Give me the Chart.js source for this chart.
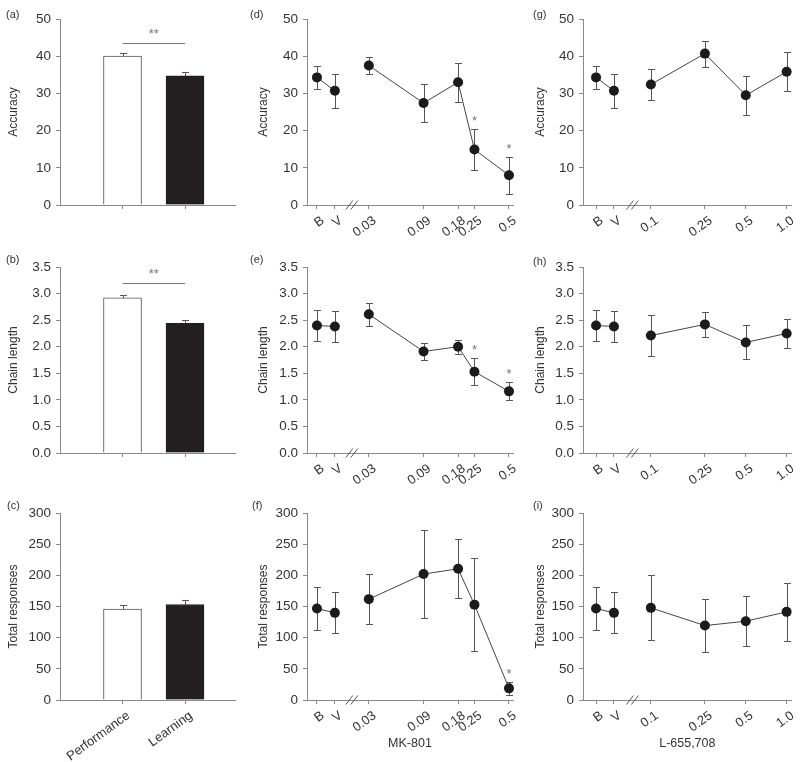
<!DOCTYPE html>
<html>
<head>
<meta charset="utf-8">
<script src="https://cdn.jsdelivr.net/npm/chart.js@4"></script>
<style>
body { margin: 0; background: #fff; width: 800px; height: 762px; position: relative; overflow: hidden; font-family: 'Liberation Sans', Arial, sans-serif; }
canvas { position: absolute; }
.lab { position: absolute; font-size: 11px; color: #333; line-height: 12px; }
</style>
</head>
<body>
<canvas id="a" width="250" height="240" style="left:0;top:0"></canvas>
<canvas id="b" width="250" height="260" style="left:0;top:230px"></canvas>
<canvas id="c" width="250" height="282" style="left:0;top:480px"></canvas>
<canvas id="d" width="277" height="240" style="left:250px;top:0"></canvas>
<canvas id="e" width="277" height="260" style="left:250px;top:230px"></canvas>
<canvas id="f" width="277" height="282" style="left:250px;top:480px"></canvas>
<canvas id="g" width="273" height="240" style="left:527px;top:0"></canvas>
<canvas id="h" width="273" height="260" style="left:527px;top:230px"></canvas>
<canvas id="i" width="273" height="282" style="left:527px;top:480px"></canvas>

<div class="lab" style="left:6px;top:8px">(a)</div>
<div class="lab" style="left:6px;top:253px">(b)</div>
<div class="lab" style="left:7px;top:499px">(c)</div>
<div class="lab" style="left:250px;top:8px">(d)</div>
<div class="lab" style="left:250px;top:253px">(e)</div>
<div class="lab" style="left:252px;top:499px">(f)</div>
<div class="lab" style="left:533px;top:8px">(g)</div>
<div class="lab" style="left:533px;top:255px">(h)</div>
<div class="lab" style="left:533px;top:499px">(i)</div>

<script>
// Performance vs Learning groups (panels a-c)
const groups = ['Performance', 'Learning'];
const grpAcc = [40.0, 34.7];
const grpAccSem = [0.9, 1.0];
const grpChain = [2.92, 2.44];
const grpChainSem = [0.06, 0.07];
const grpResp = [145.7, 153.2];
const grpRespSem = [6, 7];
const grpAccSig = 43.5;
const grpChainSig = 3.19;

// Baseline / vehicle controls
const ctrlLabels = ['B', 'V'];
const ctrlAcc = [34.3, 30.7];
const ctrlAccSem = [3.1, 4.5];
const ctrlChain = [2.40, 2.38];
const ctrlChainSem = [0.30, 0.30];
const ctrlResp = [146.8, 139.8];
const ctrlRespSem = [34, 33];

// MK-801 doses (panels d-f)
const mkDoses = [0.03, 0.09, 0.18, 0.25, 0.5];
const mkLabels = ['0.03', '0.09', '0.18', '0.25', '0.5'];
const mkAcc = [37.5, 27.4, 33.0, 14.9, 8.0];
const mkAccSem = [2.2, 5.2, 5.3, 5.5, 5.0];
const mkChain = [2.61, 1.91, 2.00, 1.53, 1.16];
const mkChainSem = [0.22, 0.16, 0.13, 0.25, 0.17];
const mkResp = [161.8, 202, 210.5, 153, 18.7];
const mkRespSem = [40, 70, 47, 75, 10];
const mkAccStar = [false, false, false, true, true];
const mkChainStar = [false, false, false, true, true];
const mkRespStar = [false, false, false, false, true];

// L-655,708 doses (panels g-i)
const lDoses = [0.1, 0.25, 0.5, 1.0];
const lLabels = ['0.1', '0.25', '0.5', '1.0'];
const lAcc = [32.4, 40.7, 29.5, 35.8];
const lAccSem = [4.1, 3.5, 5.2, 5.2];
const lChain = [2.21, 2.42, 2.08, 2.25];
const lChainSem = [0.38, 0.24, 0.32, 0.28];
const lResp = [147.8, 119.4, 126.4, 141.4];
const lRespSem = [52, 42, 40, 46];

const FONT = "'Liberation Sans', Arial, sans-serif";
const AXIS = '#888';
const TEXT = '#333';

// error bars + stars + brackets + axis break
const marks = {
    id: 'marks',
    beforeDatasetsDraw(chart) {
        const ctx = chart.ctx;
        const y = chart.scales.y;
        chart.data.datasets.forEach((ds, di) => {
            if (!ds.errors) return;
            const meta = chart.getDatasetMeta(di);
            ctx.save();
            ctx.strokeStyle = '#555';
            ctx.lineWidth = 1;
            meta.data.forEach((el, i) => {
                const v = ds.data[i].y, e = ds.errors[i];
                const x = Math.round(el.x) + 0.5;
                const top = Math.round(y.getPixelForValue(v + e)) + 0.5;
                const bot = Math.round(y.getPixelForValue(ds.upOnly ? v : v - e)) + 0.5;
                ctx.beginPath();
                ctx.moveTo(x, top); ctx.lineTo(x, bot);
                ctx.moveTo(x - 3.5, top); ctx.lineTo(x + 3.5, top);
                if (!ds.upOnly) { ctx.moveTo(x - 3.5, bot); ctx.lineTo(x + 3.5, bot); }
                ctx.stroke();
            });
            ctx.restore();
        });
    },
    afterDraw(chart, args, opts) {
        const ctx = chart.ctx;
        const xs = chart.scales.x, ys = chart.scales.y;
        ctx.save();
        ctx.fillStyle = '#777';
        ctx.strokeStyle = '#777';
        ctx.lineWidth = 1;
        ctx.font = '13px ' + FONT;
        ctx.textAlign = 'center';
        if (opts.bracket) {
            const b = opts.bracket;
            const py = Math.round(ys.getPixelForValue(b.y)) + 0.5;
            ctx.beginPath();
            ctx.moveTo(xs.getPixelForValue(b.from), py);
            ctx.lineTo(xs.getPixelForValue(b.to), py);
            ctx.stroke();
            ctx.fillText('**', (xs.getPixelForValue(b.from) + xs.getPixelForValue(b.to)) / 2, py - 6);
        }
        if (opts.stars) {
            const ds = chart.data.datasets[1];
            opts.stars.forEach((s, i) => {
                if (!s) return;
                const p = ds.data[i];
                ctx.fillText('*', xs.getPixelForValue(p.x), ys.getPixelForValue(p.y + ds.errors[i]) - 4);
            });
        }
        if (opts.breakAt !== undefined) {
            const bx = xs.getPixelForValue(opts.breakAt);
            const by = chart.chartArea.bottom;
            ctx.strokeStyle = '#555';
            ctx.beginPath();
            [-2.5, 2.5].forEach(dx => {
                ctx.moveTo(bx + dx - 3.5, by + 4.5);
                ctx.lineTo(bx + dx + 3.5, by - 4.5);
            });
            ctx.stroke();
        }
        ctx.restore();
    }
};

function yScale(min, max, step, title, dec, width) {
    return {
        min: min, max: max,
        ticks: {
            stepSize: step, color: TEXT, padding: 5,
            font: { family: FONT, size: 13.5 },
            callback: v => v.toFixed(dec)
        },
        grid: { drawOnChartArea: false, drawTicks: true, tickLength: 4, color: AXIS },
        border: { color: AXIS, width: 1 },
        title: { display: true, text: title, color: TEXT, font: { family: FONT, size: 12 }, padding: { top: 6, bottom: 0 } },
        afterFit: s => { s.width = width; }
    };
}

function xScale(min, max, tickVals, tickLabels, height, title) {
    return {
        type: 'linear', min: min, max: max, offset: false,
        afterBuildTicks: s => { s.ticks = tickVals.map(v => ({ value: v })); },
        ticks: {
            autoSkip: false, maxRotation: 36, minRotation: 36, padding: 4, labelOffset: 6, color: TEXT,
            font: { family: FONT, size: 13 },
            callback: (v, i) => tickLabels[i]
        },
        grid: { drawOnChartArea: false, drawTicks: true, tickLength: 4, color: AXIS, offset: false },
        border: { color: AXIS, width: 1 },
        title: { display: !!title, text: title || '', color: TEXT, font: { family: FONT, size: 12.5 }, padding: { top: 0, bottom: 11 } },
        afterFit: s => { s.height = height; }
    };
}

const rows = [
    { top: 19, xh: 35 },
    { top: 37, xh: 37 },
    { top: 33, xh: 62 }
];

function barPanel(id, row, means, sems, yopt, sigY, showLabels) {
    const pts = means.map((m, i) => ({ x: i + 1, y: m }));
    new Chart(document.getElementById(id), {
        type: 'bar',
        data: {
            datasets: [{
                data: pts,
                errors: sems,
                upOnly: true,
                backgroundColor: ['#ffffff', '#231f20'],
                borderColor: ['#555', '#231f20'],
                borderWidth: 1,
                borderSkipped: 'bottom',
                barThickness: 38
            }]
        },
        options: {
            responsive: false, animation: false,
            layout: { padding: { top: rows[row].top, right: 15, left: 0, bottom: 0 } },
            plugins: {
                legend: { display: false }, tooltip: { enabled: false },
                marks: sigY !== null ? { bracket: { from: 1, to: 2, y: sigY } } : {}
            },
            scales: {
                x: xScale(0, 2.8, [1, 2], showLabels ? groups : ['', ''], rows[row].xh),
                y: yScale(yopt[0], yopt[1], yopt[2], yopt[3], yopt[4], 60)
            }
        },
        plugins: [marks]
    });
}

function dosePanel(id, row, ax, doses, doseLabels, ctrl, ctrlSem, vals, sems, stars, yopt, yWidth, rightPad, xTitle) {
    const first = Math.log10(doses[0]);
    const ctrlX = [first - ax.gapB, first - ax.gapV];
    const ctrlPts = ctrl.map((v, i) => ({ x: ctrlX[i], y: v }));
    const dosePts = vals.map((v, i) => ({ x: Math.log10(doses[i]), y: v }));
    const ds = {
        showLine: true, borderColor: '#444', borderWidth: 1,
        pointRadius: 5, pointBackgroundColor: '#1b1b1b', pointBorderWidth: 0,
        clip: false
    };
    new Chart(document.getElementById(id), {
        type: 'line',
        data: {
            datasets: [
                Object.assign({ data: ctrlPts, errors: ctrlSem }, ds),
                Object.assign({ data: dosePts, errors: sems }, ds)
            ]
        },
        options: {
            responsive: false, animation: false,
            layout: { padding: { top: rows[row].top, right: rightPad, left: 0, bottom: 0 } },
            plugins: {
                legend: { display: false }, tooltip: { enabled: false },
                marks: { stars: stars, breakAt: (ctrlX[1] + first) / 2 }
            },
            scales: {
                x: xScale(first - ax.lead, Math.log10(doses[doses.length - 1]) + ax.tail,
                    ctrlX.concat(doses.map(d => Math.log10(d))),
                    ctrlLabels.concat(doseLabels), rows[row].xh, xTitle),
                y: yScale(yopt[0], yopt[1], yopt[2], yopt[3], yopt[4], yWidth)
            }
        },
        plugins: [marks]
    });
}

const yAcc = [0, 50, 10, 'Accuracy', 0];
const yChain = [0, 3.5, 0.5, 'Chain length', 1];
const yResp = [0, 300, 50, 'Total responses', 0];

barPanel('a', 0, grpAcc, grpAccSem, yAcc, grpAccSig, false);
barPanel('b', 1, grpChain, grpChainSem, yChain, grpChainSig, false);
barPanel('c', 2, grpResp, grpRespSem, yResp, null, true);

// axis layout in log10 units
const mkAx = { gapB: 0.452, gapV: 0.296, lead: 0.539, tail: 0.035 };
const lAx = { gapB: 0.404, gapV: 0.272, lead: 0.5, tail: 0.037 };

dosePanel('d', 0, mkAx, mkDoses, mkLabels, ctrlAcc, ctrlAccSem, mkAcc, mkAccSem, mkAccStar, yAcc, 57, 14);
dosePanel('e', 1, mkAx, mkDoses, mkLabels, ctrlChain, ctrlChainSem, mkChain, mkChainSem, mkChainStar, yChain, 57, 14);
dosePanel('f', 2, mkAx, mkDoses, mkLabels, ctrlResp, ctrlRespSem, mkResp, mkRespSem, mkRespStar, yResp, 57, 14, 'MK-801');

dosePanel('g', 0, lAx, lDoses, lLabels, ctrlAcc, ctrlAccSem, lAcc, lAccSem, null, yAcc, 56, 8);
dosePanel('h', 1, lAx, lDoses, lLabels, ctrlChain, ctrlChainSem, lChain, lChainSem, null, yChain, 56, 8);
dosePanel('i', 2, lAx, lDoses, lLabels, ctrlResp, ctrlRespSem, lResp, lRespSem, null, yResp, 56, 8, 'L-655,708');
</script>
</body>
</html>
